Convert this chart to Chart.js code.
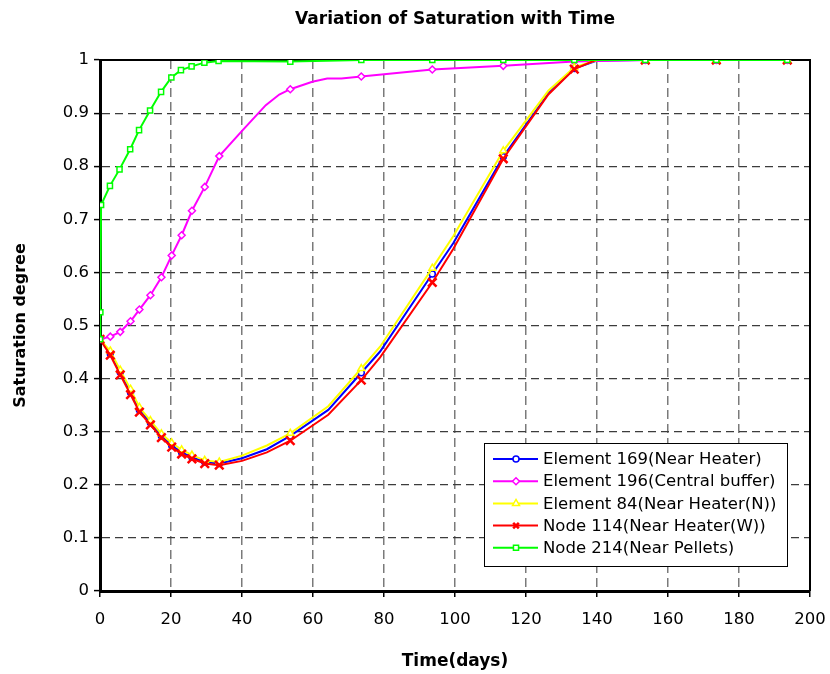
<!DOCTYPE html>
<html>
<head>
<meta charset="utf-8">
<script src="https://cdn.jsdelivr.net/npm/chart.js@4/dist/chart.umd.min.js"></script>
<style>
  html, body { margin: 0; padding: 0; background: #fff; }
  #wrap { width: 830px; height: 674px; }
</style>
</head>
<body>
<div id="wrap"><canvas id="satChart" width="830" height="674"></canvas></div>
<script>
// time axis (days) for each group of curves
const heaterDays = [0, 2.9, 5.7, 8.6, 11.1, 14.2, 17.3, 20.2, 23.0, 25.9, 29.5, 33.6, 40, 47, 53.6, 64.3, 73.6, 78.9, 93.6, 99.5, 113.6, 126.3, 133.6, 140, 153.6, 173.6, 193.6];
const bufferDays = [0, 2.9, 5.7, 8.6, 11.1, 14.2, 17.3, 20.2, 23.0, 25.9, 29.5, 33.6, 40.2, 46.7, 50.5, 53.6, 59.8, 64, 68, 73.6, 93.6, 113.6, 133.6, 153.6, 173.6, 193.6];
const pelletDays = [0, 0.1, 0.3, 2.8, 5.5, 8.5, 11.0, 14.1, 17.2, 20.1, 22.8, 25.8, 29.4, 33.4, 53.6, 73.6, 93.6, 113.6, 133.6, 153.6, 173.6, 193.6];

// points of the curves that carry no marker
const unmarkedDays = [40, 47, 64.3, 78.9, 99.5, 126.3, 140, 40.2, 46.7, 50.5, 59.8, 64, 68];

const element169 = [0.474, 0.447, 0.412, 0.374, 0.341, 0.317, 0.292, 0.274, 0.261, 0.252, 0.243, 0.240, 0.250, 0.267, 0.292, 0.341, 0.411, 0.451, 0.597, 0.655, 0.818, 0.937, 0.984, 0.999, 1, 1, 1];
const element196 = [0.474, 0.479, 0.488, 0.508, 0.530, 0.557, 0.591, 0.632, 0.670, 0.716, 0.761, 0.819, 0.868, 0.915, 0.935, 0.945, 0.959, 0.965, 0.965, 0.969, 0.982, 0.989, 0.997, 1, 1, 1];
const element84 = [0.474, 0.452, 0.416, 0.380, 0.346, 0.321, 0.296, 0.279, 0.266, 0.256, 0.246, 0.243, 0.255, 0.274, 0.297, 0.348, 0.419, 0.460, 0.608, 0.668, 0.829, 0.942, 0.986, 1, 1, 1, 1];
const node114 = [0.474, 0.444, 0.407, 0.370, 0.337, 0.313, 0.289, 0.271, 0.258, 0.249, 0.240, 0.237, 0.245, 0.261, 0.283, 0.332, 0.397, 0.440, 0.581, 0.644, 0.814, 0.935, 0.983, 1.001, 1, 1, 1];
const node214 = [0.474, 0.525, 0.727, 0.763, 0.794, 0.832, 0.868, 0.905, 0.940, 0.967, 0.981, 0.988, 0.995, 0.998, 0.997, 1, 1, 1, 1, 1, 1, 1];

const seriesLabels = ['Element 169(Near Heater)', 'Element 196(Central buffer)', 'Element 84(Near Heater(N))', 'Node 114(Near Heater(W))', 'Node 214(Near Pellets)'];
const xTicks = [0, 20, 40, 60, 80, 100, 120, 140, 160, 180, 200];
const yTicks = [0, 0.1, 0.2, 0.3, 0.4, 0.5, 0.6, 0.7, 0.8, 0.9, 1];

const FONT = 'DejaVu Sans';

function pairUp(days, vals) {
    return days.map((d, i) => ({ x: d, y: vals[i] }));
}

function makeSet(label, days, vals, color, style, radius, order) {
    const isCross = style === 'crossRot';
    return {
        label: label,
        data: pairUp(days, vals),
        borderColor: color,
        backgroundColor: color,
        borderWidth: 2,
        tension: 0,
        order: order,
        pointStyle: style,
        pointBackgroundColor: isCross ? color : '#ffffff',
        pointBorderColor: color,
        pointBorderWidth: isCross ? 2.5 : 1.5,
        markerRadius: radius,
        pointRadius: ctx => (unmarkedDays.includes(ctx.raw.x) ? 0 : radius),
        pointHoverRadius: 0
    };
}

const datasets = [
    makeSet(seriesLabels[0], heaterDays, element169, '#0000ff', 'circle', 3, 5),
    makeSet(seriesLabels[1], bufferDays, element196, '#ff00ff', 'rectRot', 3.5, 4),
    makeSet(seriesLabels[2], heaterDays, element84, '#ffff00', 'triangle', 4, 3),
    makeSet(seriesLabels[3], heaterDays, node114, '#ff0000', 'crossRot', 6, 2),
    makeSet(seriesLabels[4], pelletDays, node214, '#00ff00', 'rect', 3.6, 1)
];

// top / right frame and the boxed legend inside the plot
const framePlugin = {
    id: 'frameAndLegend',
    beforeDatasetsDraw(chart) {
        const a = chart.chartArea;
        const ctx = chart.ctx;
        ctx.save();
        ctx.strokeStyle = '#000';
        ctx.lineWidth = 2;
        ctx.setLineDash([]);
        ctx.beginPath();
        ctx.moveTo(a.left, a.top);
        ctx.lineTo(a.right, a.top);
        ctx.lineTo(a.right, a.bottom);
        ctx.stroke();
        ctx.restore();
    },
    afterDraw(chart) {
        const ctx = chart.ctx;
        const box = { x: 484, y: 443, w: 303, h: 123 };
        ctx.save();
        ctx.setLineDash([]);
        ctx.fillStyle = '#fff';
        ctx.fillRect(box.x, box.y, box.w, box.h);
        ctx.strokeStyle = '#000';
        ctx.lineWidth = 1;
        ctx.strokeRect(box.x + 0.5, box.y + 0.5, box.w, box.h);
        ctx.font = '16.5px "' + FONT + '"';
        ctx.textBaseline = 'middle';
        datasets.forEach((ds, i) => {
            const y = 459 + i * 22.2;
            ctx.strokeStyle = ds.borderColor;
            ctx.lineWidth = 2;
            ctx.beginPath();
            ctx.moveTo(493, y);
            ctx.lineTo(538, y);
            ctx.stroke();
            ctx.fillStyle = ds.pointBackgroundColor;
            ctx.lineWidth = ds.pointBorderWidth;
            Chart.helpers.drawPoint(ctx, { pointStyle: ds.pointStyle, radius: Math.min(ds.markerRadius, 4), rotation: 0, borderWidth: ds.pointBorderWidth }, 516, y);
            ctx.fillStyle = '#000';
            ctx.fillText(ds.label, 543, y + 1);
        });
        ctx.restore();
    }
};

new Chart(document.getElementById('satChart'), {
    type: 'line',
    data: { datasets: datasets },
    options: {
        responsive: false,
        animation: false,
        layout: { padding: { left: 0, right: 0, top: 0, bottom: 0 } },
        plugins: {
            legend: { display: false },
            tooltip: { enabled: false },
            title: {
                display: true,
                fullSize: false,
                text: 'Variation of Saturation with Time',
                color: '#000',
                font: { family: FONT, size: 17, weight: 'bold' },
                padding: { top: 9, bottom: 30.6 }
            }
        },
        scales: {
            x: {
                type: 'linear',
                min: 0,
                max: 200,
                afterFit: s => { s.height = 83; s.paddingLeft = 0; s.paddingRight = 20; },
                afterBuildTicks: s => { s.ticks = xTicks.map(v => ({ value: v })); },
                ticks: { color: '#000', font: { family: FONT, size: 16.5 }, padding: 13, maxRotation: 0 },
                grid: {
                    color: '#7a7a7a',
                    lineWidth: 1.5,
                    tickColor: '#000',
                    tickLength: 6,
                    tickWidth: 1.5,
                    tickBorderDash: []
                },
                border: { display: true, color: '#000', width: 3, dash: [9, 5] },
                title: {
                    display: true,
                    text: 'Time(days)',
                    color: '#000',
                    font: { family: FONT, size: 17, weight: 'bold' },
                    padding: { top: 4, bottom: 2 }
                }
            },
            y: {
                type: 'linear',
                min: 0,
                max: 1,
                afterFit: s => { s.width = 100; },
                afterBuildTicks: s => { s.ticks = yTicks.map(v => ({ value: v })); },
                ticks: {
                    color: '#000',
                    font: { family: FONT, size: 16.5 },
                    padding: 5,
                    callback: v => String(+v.toFixed(1))
                },
                grid: {
                    color: '#3c3c3c',
                    lineWidth: 1.2,
                    tickColor: '#000',
                    tickLength: 6,
                    tickWidth: 1.5,
                    tickBorderDash: []
                },
                border: { display: true, color: '#000', width: 3, dash: [8, 5] },
                title: {
                    display: true,
                    text: 'Saturation degree',
                    color: '#000',
                    font: { family: FONT, size: 16, weight: 'bold' },
                    padding: { top: 11, bottom: 0 }
                }
            }
        }
    },
    plugins: [framePlugin]
});
</script>
</body>
</html>
